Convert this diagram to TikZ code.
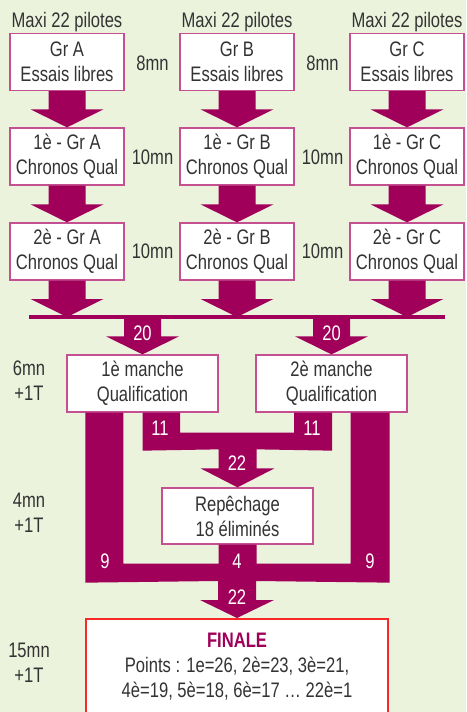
\documentclass[tikz,border=0pt]{standalone}
\usepackage{fontspec}
\setmainfont[FakeStretch=0.79]{Liberation Sans}
\usetikzlibrary{calc}

\definecolor{bgvert}{RGB}{236,243,221}
\definecolor{prune}{RGB}{160,0,90}
\definecolor{bordrose}{RGB}{196,80,145}
\definecolor{bordrouge}{RGB}{250,40,40}
\definecolor{gristexte}{RGB}{51,51,51}

% fat arrow from #1 down to the tip #2
\newcommand{\fleche}[2]{%
  \fill[prune] ($(#1)+(-18.5,0)$) -- ($(#2)+(-18.5,-18)$) -- ($(#2)+(-36.5,-18)$)
    -- (#2) -- ($(#2)+(36.5,-18)$) -- ($(#2)+(18.5,-18)$) -- ($(#1)+(18.5,0)$) -- cycle;}

\begin{document}
\begin{tikzpicture}[x=1pt,y=-1pt,
    font=\fontsize{21}{25}\selectfont,
    boite/.style={draw=bordrose,line width=1.3pt,fill=white,align=center,
      text=gristexte,inner sep=0pt,minimum width=114,minimum height=57},
    large/.style={boite,minimum width=151},
    temps/.style={text=gristexte,align=center,inner sep=0pt},
    nombre/.style={text=white,inner sep=0pt}]

    \clip (0,0) rectangle (466,712);
    \fill[bgvert] (0,0) rectangle (466,712);

    %groupes:
    \foreach \g/\x in {A/67,B/237,C/407}{
        \node[temps] (maxi\g) at (\x,22) {Maxi 22 pilotes};
        \node[boite] (gr\g) at (\x,62) {Gr \g\\Essais libres};
        \node[boite] (chrun\g) at (\x,156.5) {1è - Gr \g\\Chronos Qual};
        \node[boite] (chrdeux\g) at (\x,251.5) {2è - Gr \g\\Chronos Qual};
    }
    \coordinate (barreG) at (29,317);
    \coordinate (barreD) at (445,317);

    \node[large] (manche1) at (142.5,383.5) {1è manche\\Qualification};
    \node[large] (manche2) at (331.5,383.5) {2è manche\\Qualification};
    \node[large,minimum height=56] (repech) at (237.5,516) {Repêchage\\18 éliminés};

    %arrows:
    \foreach \g in {A,B,C}{
        \fleche{gr\g.south}{chrun\g.north}
        \fleche{chrun\g.south}{chrdeux\g.north}
        \fleche{chrdeux\g.south}{chrdeux\g.south |- barreG}
    }
    \draw[prune,line width=4pt] (barreG) -- (barreD);
    \fleche{manche1.north |- barreG}{manche1.north}
    \fleche{manche2.north |- barreG}{manche2.north}

    %the 11 + 11 toward repechage:
    \fill[prune] (manche1.south) -- ($(manche1.south)+(0,38)$) -- ($(repech.north)+(-19,-38)$)
        -- ($(repech.north)+(-19,-19)$) -- ($(repech.north)+(-37,-19)$) -- (repech.north)
        -- ($(repech.north)+(37,-19)$) -- ($(repech.north)+(19,-19)$) -- ($(repech.north)+(19,-38)$)
        -- ($(manche2.south)+(0.5,38)$) -- ($(manche2.south)+(0.5,0)$) -- ($(manche2.south)+(-37.5,0)$)
        -- ($(manche2.south)+(-37.5,20)$) -- ($(manche1.south)+(37.5,20)$) -- ($(manche1.south)+(37.5,0)$) -- cycle;

    %the 9 + 4 + 9 toward finale:
    \node[draw=bordrouge,line width=2pt,fill=white,align=center,text=gristexte,
        minimum width=302,minimum height=96,inner sep=0pt] (finale) at (237,667)
        {{\bfseries\color{prune}FINALE}\\Points : 1e=26, 2è=23, 3è=21,\\4è=19, 5è=18, 6è=17 \dots\ 22è=1};
    \fill[prune] ($(manche1.south west)+(19,0)$) -- ($(manche1.south west)+(19,170)$)
        -- ($(finale.north)+(-19,-37)$) -- ($(finale.north)+(-19,-18)$) -- ($(finale.north)+(-37,-18)$)
        -- (finale.north) -- ($(finale.north)+(37,-18)$) -- ($(finale.north)+(19,-18)$)
        -- ($(finale.north)+(19,-37)$) -- ($(manche2.south east)+(-18,170)$) -- ($(manche2.south east)+(-18,0)$)
        -- ($(manche2.south east)+(-57,0)$) -- ($(manche2.south east)+(-57,151)$) -- ($(repech.south)+(19,19)$)
        -- ($(repech.south)+(19,0)$) -- ($(repech.south)+(-19,0)$) -- ($(repech.south)+(-19,19)$)
        -- ($(manche1.south west)+(57,151)$) -- ($(manche1.south west)+(57,0)$) -- cycle;

    %numbers:
    \node[nombre] (vingt1) at (142.5,333) {20};
    \node[nombre] (vingt2) at (331.5,333) {20};
    \node[nombre] (onze1) at (160,428) {11};
    \node[nombre] (onze2) at (312,428) {11};
    \node[nombre] (vingtdeux1) at (237,463) {22};
    \node[nombre] (neuf1) at (105,561) {9};
    \node[nombre] (quatre) at (237,561) {4};
    \node[nombre] (neuf2) at (370,561) {9};
    \node[nombre] (vingtdeux2) at (237,597) {22};

    %times:
    \node[temps] (t1) at (152.5,63) {8mn};
    \node[temps] (t2) at (322.5,63) {8mn};
    \node[temps] (t3) at (152.5,157) {10mn};
    \node[temps] (t4) at (322.5,157) {10mn};
    \node[temps] (t5) at (152.5,251.5) {10mn};
    \node[temps] (t6) at (322.5,251.5) {10mn};
    \node[temps] (t7) at (29,381) {6mn\\+1T};
    \node[temps] (t8) at (29,513) {4mn\\+1T};
    \node[temps] (t9) at (29,663) {15mn\\+1T};

\end{tikzpicture}
\end{document}
